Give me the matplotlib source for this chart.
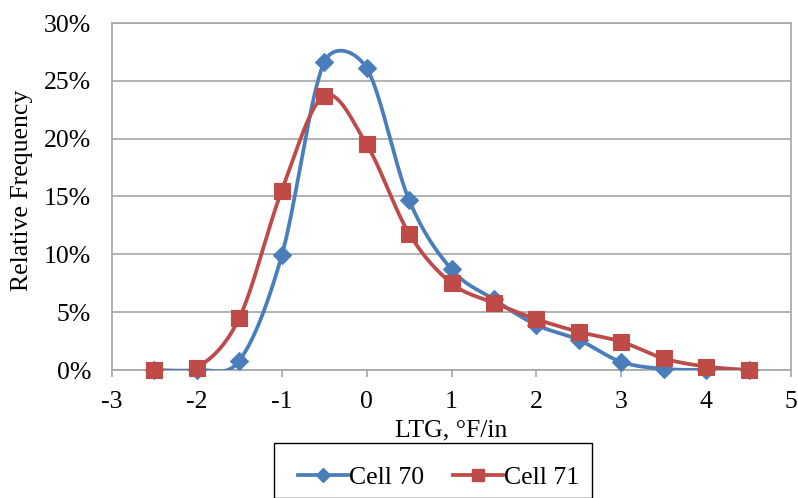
import numpy as np
import matplotlib
matplotlib.use("Agg")
import matplotlib.pyplot as plt
from matplotlib.patches import Rectangle
from matplotlib.ticker import FuncFormatter

ltg = [-2.5, -2.0, -1.5, -1.0, -0.5, 0.0, 0.5, 1.0, 1.5, 2.0, 2.5, 3.0, 3.5, 4.0, 4.5]
cell70 = [0.0, 0.0, 0.8, 9.9, 26.6, 26.1, 14.7, 8.7, 6.1, 3.9, 2.6, 0.7, 0.1, 0.0, 0.0]
cell71 = [0.0, 0.2, 4.5, 15.5, 23.7, 19.5, 11.8, 7.5, 5.8, 4.4, 3.3, 2.45, 1.0, 0.3, 0.0]
series_names = ["Cell 70", "Cell 71"]

BLUE = "#4A7EBB"
RED = "#BE4B48"
GRID = "#A6A6A6"
FS = 18.5

plt.rcParams["font.family"] = ["Liberation Serif", "DejaVu Serif"]
plt.rcParams["axes.unicode_minus"] = False


def smooth(ax, xs, ys, n=40):
    """Bezier smoothing in screen space; control arms capped at half the chord."""
    tr = ax.transData
    P = tr.transform(np.column_stack([xs, ys]))
    m = len(P)
    out = []
    for i in range(m - 1):
        p0 = P[i - 1] if i > 0 else P[i]
        p1 = P[i]
        p2 = P[i + 1]
        p3 = P[i + 2] if i + 2 < m else P[i + 1]
        d12 = np.hypot(*(p2 - p1))
        a = (p2 - p0) / 6.0
        b = (p3 - p1) / 6.0
        la, lb = np.hypot(*a), np.hypot(*b)
        if la > d12 / 2 and la > 0:
            a *= (d12 / 2) / la
        if lb > d12 / 2 and lb > 0:
            b *= (d12 / 2) / lb
        c1 = p1 + a
        c2 = p2 - b
        t = np.linspace(0, 1, n)[:, None]
        seg = ((1 - t) ** 3) * p1 + 3 * ((1 - t) ** 2) * t * c1 + 3 * (1 - t) * t ** 2 * c2 + t ** 3 * p2
        out.append(seg if i == 0 else seg[1:])
    pts = tr.inverted().transform(np.vstack(out))
    return pts[:, 0], pts[:, 1]


fig = plt.figure(figsize=(7.98, 4.98), dpi=100)
ax = fig.add_axes([112 / 798, 1 - 370 / 498, (791 - 112) / 798, (370 - 23) / 498])
ax.set_xlim(-3, 5)
ax.set_ylim(0, 30)

sx, sy = smooth(ax, ltg, cell70)
ax.plot(sx, sy, color=BLUE, lw=2.7, zorder=3, solid_capstyle="round")
ax.plot(ltg, cell70, ls="none", marker="D", ms=9, mew=0.8, color=BLUE, zorder=4, clip_on=False)

sx, sy = smooth(ax, ltg, cell71)
ax.plot(sx, sy, color=RED, lw=2.7, zorder=5, solid_capstyle="round")
ax.plot(ltg, cell71, ls="none", marker="s", ms=12, mew=0.8, color=RED, zorder=6, clip_on=False)

ax.set_xticks(range(-3, 6))
ax.set_yticks(range(0, 31, 5))
ax.yaxis.set_major_formatter(FuncFormatter(lambda v, p: f"{int(v)}%"))
ax.grid(axis="y", color=GRID, lw=1.2)
ax.set_axisbelow(True)
for side in ["left", "bottom", "right", "top"]:
    ax.spines[side].set_color(GRID)
    ax.spines[side].set_linewidth(1.2)
ax.tick_params(axis="y", length=0, pad=15, labelsize=FS)
ax.tick_params(axis="x", length=5, color=GRID, width=1.2, pad=10, labelsize=FS)

ax.set_xlabel("LTG, \u00b0F/in", fontsize=FS, labelpad=5)
fig.text(22 / 798, 1 - 190 / 498, "Relative Frequency", fontsize=FS,
         rotation=90, ha="center", va="center")

# legend box, running off the bottom edge of the figure
fig.patches.append(Rectangle((274 / 798, 0), (592 - 274) / 798, (498 - 453) / 498 + 0.02,
                             transform=fig.transFigure, facecolor="white",
                             edgecolor="black", lw=1.0, clip_on=False))

h1 = plt.Line2D([], [], color=BLUE, lw=2.7, marker="D", ms=7)
h2 = plt.Line2D([], [], color=RED, lw=2.7, marker="s", ms=9)
leg = fig.legend([h1, h2], series_names, loc="upper left",
                 bbox_to_anchor=(298 / 798, 1 - 466 / 498), ncol=2, frameon=False,
                 fontsize=FS, handlelength=1.95, columnspacing=1.1,
                 handletextpad=0.05, borderpad=0.0, borderaxespad=0.0)

fig.savefig("out.png", dpi=100)
